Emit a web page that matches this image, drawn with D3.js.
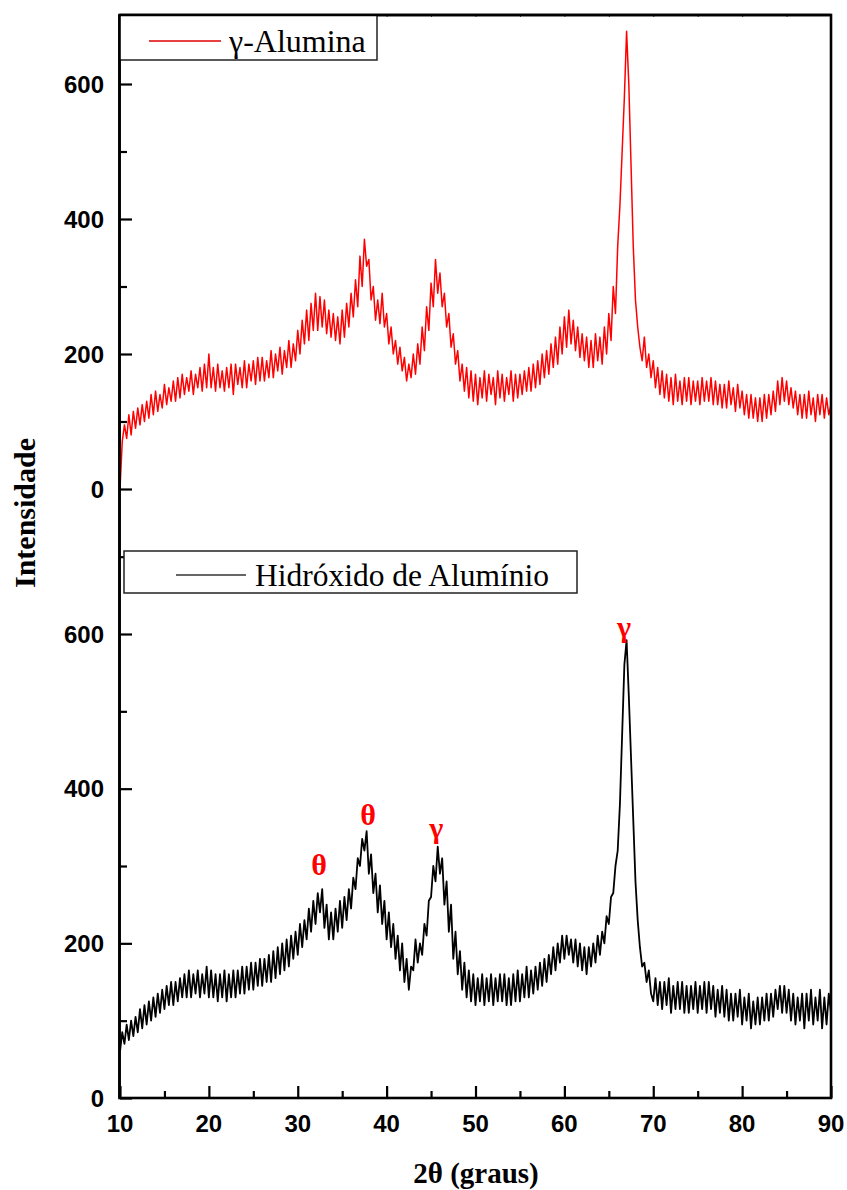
<!DOCTYPE html>
<html><head><meta charset="utf-8">
<script src="https://cdn.jsdelivr.net/npm/d3@7"></script>
<style>body{margin:0;background:#fff}svg{display:block}</style>
</head><body>
<script>
// ---------- DATA ----------
const xStart = 10, xStep = 0.25; // 2θ sampling (degrees)
const xTicks = [10,20,30,40,50,60,70,80,90];
const yTicksTop = [0,200,400,600];
const yTicksBottom = [0,200,400,600];
const seriesNames = ["γ-Alumina","Hidróxido de Alumínio"];
// γ-Alumina intensities, 10..90 step 0.25
const aluminaValues = [
0,70,95,75, 110,80,115,90, 120,95,125,100, 130,105,140,110, 145,115,140,120,
155,125,150,130, 160,130,165,135, 170,140,165,145, 175,140,170,150, 180,145,185,150,
200,150,180,145, 185,150,175,145, 180,150,185,140, 185,155,180,150, 190,150,185,160,
190,155,195,160, 195,160,190,165, 205,165,200,175, 210,170,205,180, 220,180,215,190,
235,200,250,215, 265,220,275,235, 290,235,285,240, 280,230,265,225, 260,220,255,215,
265,225,275,240, 290,255,310,270, 345,300,370,330, 340,280,300,250, 280,245,290,240,
260,215,240,200, 220,185,210,175, 195,160,185,165, 200,170,215,185, 240,205,270,235,
305,270,340,290, 320,270,290,240, 260,210,230,185, 205,160,185,145, 180,135,175,130,
170,125,165,135, 175,130,170,140, 165,125,175,135, 170,130,165,140, 175,130,170,135,
170,140,175,145, 180,145,185,150, 190,155,200,165, 205,170,215,180, 225,185,240,200,
255,210,265,215, 250,205,240,195, 230,190,225,180, 220,180,230,190, 225,185,240,200,
260,220,300,260, 360,420,500,580, 678,600,480,360, 280,240,210,190, 225,180,200,165,
190,150,180,140, 175,135,170,130, 165,125,170,130, 160,125,165,130, 165,125,160,130,
160,125,165,130, 160,130,165,125, 160,125,155,120, 155,120,160,125, 150,115,155,120,
145,110,140,105, 140,105,135,100, 135,100,140,105, 140,110,145,115, 160,125,165,130,
160,125,150,120, 145,110,140,105, 140,105,145,110, 135,100,140,110, 140,105,135,110,
125];
// Hidróxido de Alumínio intensities, 10..90 step 0.25
const hidroxidoValues = [
60,85,70,95, 75,100,80,105, 85,115,90,120, 95,125,100,130, 105,135,110,140,
115,145,120,150, 120,150,125,155, 130,160,130,165, 130,160,135,165, 130,160,135,170,
130,165,130,160, 125,160,130,165, 125,160,130,165, 130,165,135,170, 135,170,140,175,
140,175,145,180, 145,180,150,185, 150,190,155,195, 160,200,165,205, 170,210,180,215,
185,225,195,230, 205,245,215,255, 225,265,240,270, 220,250,205,240, 205,245,215,255,
220,260,230,270, 245,285,270,310, 300,335,320,345, 290,315,265,290, 240,275,225,255,
205,240,195,225, 180,210,165,200, 150,180,140,170, 165,205,175,200, 185,225,210,255,
260,300,280,325, 290,310,250,280, 215,250,180,215, 160,190,140,175, 130,165,125,160,
120,155,125,160, 120,155,125,160, 120,155,125,160, 125,160,120,155, 120,160,125,165,
125,160,130,170, 130,165,135,170, 140,175,145,180, 150,185,160,195, 165,200,175,210,
180,210,185,205, 175,205,170,200, 165,195,160,195, 170,200,175,210, 185,215,200,235,
225,260,265,300, 320,380,470,560, 592,520,440,360, 280,230,195,170, 175,150,165,135,
125,155,120,150, 115,150,120,155, 110,145,115,150, 115,150,110,145, 110,145,115,150,
110,145,115,150, 110,150,115,145, 105,140,110,145, 105,140,100,135, 100,135,105,140,
95,130,100,135, 90,125,95,130, 95,130,100,135, 100,135,105,140, 115,145,110,145,
110,140,100,135, 95,130,100,135, 90,135,100,140, 95,130,100,140, 90,130,95,135,
110];
const phaseLabels = ["θ","θ","γ","γ"];
const phaseX = [32.4, 37.9, 45.6, 66.7];
const phaseY = [288, 353, 336, 596];

// ---------- LAYOUT ----------
const W = 847, H = 1190;
const L = 120, R = 831, T = 15, B = 1098, MID = 545;
const svg = d3.select("body").append("svg").attr("width", W).attr("height", H);

const x = d3.scaleLinear().domain([10, 90]).range([L, R]);
const yTop = d3.scaleLinear().domain([0, 600]).range([489, 84]);
const yBot = d3.scaleLinear().domain([0, 600]).range([B, 634]);

const toPts = vals => vals.map((v, i) => [xStart + i * xStep, v]);

svg.append("defs").append("clipPath").attr("id","cTop")
  .append("rect").attr("x", L).attr("y", T).attr("width", R - L).attr("height", MID - T);
svg.select("defs").append("clipPath").attr("id","cBot")
  .append("rect").attr("x", L).attr("y", MID).attr("width", R - L).attr("height", B - MID);

// lines
const lineTop = d3.line().x(d => x(d[0])).y(d => yTop(d[1]));
const lineBot = d3.line().x(d => x(d[0])).y(d => yBot(d[1]));
svg.append("path").datum(toPts(aluminaValues)).attr("d", lineTop)
  .attr("fill","none").attr("stroke","#ff0000").attr("stroke-width",1.5)
  .attr("stroke-linejoin","round").attr("clip-path","url(#cTop)");
svg.append("path").datum(toPts(hidroxidoValues)).attr("d", lineBot)
  .attr("fill","none").attr("stroke","#000").attr("stroke-width",1.8)
  .attr("stroke-linejoin","round").attr("clip-path","url(#cBot)");

// axes
const tickFont = "'Liberation Sans', Arial, sans-serif";
const tickSize = 24;
function styleAxis(g){
  g.select(".domain").remove();
  g.selectAll("line").attr("stroke","#000").attr("stroke-width",2.2);
}
svg.append("g").attr("transform", `translate(${L},0)`)
  .call(d3.axisRight(yTop).tickValues(yTicksTop).tickSize(12).tickFormat("")).call(styleAxis);
svg.append("g").attr("transform", `translate(${L},0)`)
  .call(d3.axisRight(yTop).tickValues([100,300,500]).tickSize(7).tickFormat("")).call(styleAxis);
svg.append("g").attr("transform", `translate(${L},0)`)
  .call(d3.axisRight(yBot).tickValues(yTicksBottom).tickSize(12).tickFormat("")).call(styleAxis);
svg.append("g").attr("transform", `translate(${L},0)`)
  .call(d3.axisRight(yBot).tickValues([100,300,500,700]).tickSize(7).tickFormat("")).call(styleAxis);
// y labels
[[yTop, yTicksTop],[yBot, yTicksBottom]].forEach(([sc, tv]) => {
  svg.append("g").selectAll("text").data(tv).join("text")
    .attr("x", 104).attr("y", d => sc(d)).attr("dy","0.36em")
    .attr("text-anchor","end").attr("font-family", tickFont).attr("font-weight","bold")
    .attr("font-size", tickSize).text(d => d);
});
// x axis
svg.append("g").attr("transform", `translate(0,${B})`)
  .call(d3.axisTop(x).tickValues(xTicks).tickSize(12).tickFormat("")).call(styleAxis);
svg.append("g").attr("transform", `translate(0,${B})`)
  .call(d3.axisTop(x).tickValues(d3.range(15, 90, 10)).tickSize(7).tickFormat("")).call(styleAxis);
svg.append("g").attr("transform", `translate(0,${T})`)
  .call(d3.axisBottom(x).tickValues(d3.range(15, 90, 5)).tickSize(2).tickFormat("")).call(g => {
    g.select(".domain").remove(); g.selectAll("line").attr("stroke","#444").attr("stroke-width",1);
  });
svg.append("g").selectAll("text").data(xTicks).join("text")
  .attr("x", d => x(d)).attr("y", 1132).attr("text-anchor","middle")
  .attr("font-family", tickFont).attr("font-weight","bold").attr("font-size", tickSize).text(d => d);

// frame
svg.append("rect").attr("x", L - 0.5).attr("y", T).attr("width", R - L + 0.5).attr("height", B - T)
  .attr("fill","none").attr("stroke","#000").attr("stroke-width",2.6);

// legends
const serif = "'Liberation Serif', 'Times New Roman', serif";
function legend(x0, y0, x1, y1, lx0, lx1, ly, tx, ty, color, label, fs){
  const g = svg.append("g");
  g.append("rect").attr("x", x0).attr("y", y0).attr("width", x1 - x0).attr("height", y1 - y0)
    .attr("fill","#fff").attr("stroke","#222").attr("stroke-width",1.5);
  g.append("line").attr("x1", lx0).attr("x2", lx1).attr("y1", ly).attr("y2", ly)
    .attr("stroke", color).attr("stroke-width",1.3);
  g.append("text").attr("x", tx).attr("y", ty).attr("font-family", serif)
    .attr("font-size", fs).attr("fill","#000").text(label);
}
legend(119, 15, 377, 60, 149, 221, 41, 229, 52, "#e00000", seriesNames[0], 32);
legend(124, 551, 577, 593, 176, 246, 575, 255, 586, "#333", seriesNames[1], 31.5);
// redraw frame top/left over legend edges
svg.append("line").attr("x1", L - 0.5).attr("x2", R).attr("y1", T).attr("y2", T).attr("stroke","#000").attr("stroke-width",2.6);
svg.append("line").attr("x1", L - 0.5).attr("x2", L - 0.5).attr("y1", T).attr("y2", B).attr("stroke","#000").attr("stroke-width",2.6);

// phase annotations
svg.append("g").selectAll("text").data(phaseLabels).join("text")
  .attr("x", (d, i) => x(phaseX[i])).attr("y", (d, i) => yBot(phaseY[i]))
  .attr("text-anchor","middle").attr("font-family", serif).attr("font-weight","bold")
  .attr("font-size",30).attr("fill","#ff0000").text(d => d);

// axis titles
svg.append("text").attr("transform","translate(35,513) rotate(-90)").attr("text-anchor","middle")
  .attr("font-family", serif).attr("font-weight","bold").attr("font-size",30).text("Intensidade");
svg.append("text").attr("x", 476).attr("y", 1183).attr("text-anchor","middle")
  .attr("font-family", serif).attr("font-weight","bold").attr("font-size",29).text("2θ (graus)");
</script>
</body></html>
